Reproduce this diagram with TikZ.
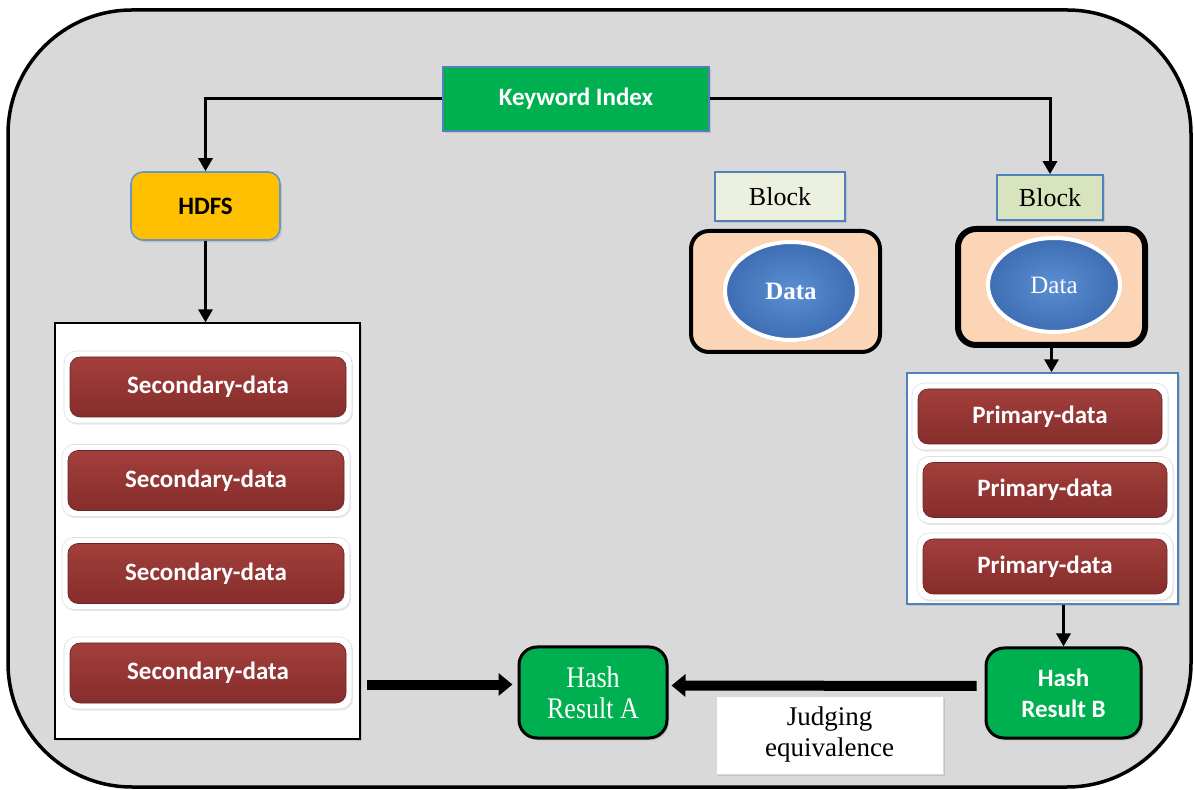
\documentclass[tikz,border=0pt]{standalone}
\usepackage{fontspec}
\setmainfont{Liberation Serif}
\newfontfamily\calfont{Carlito}
\usetikzlibrary{arrows.meta,shapes.geometric,shadows,calc}

\definecolor{framegray}{HTML}{D9D9D9}
\definecolor{kwgreen}{HTML}{00B050}
\definecolor{edgeblue}{HTML}{4F81BD}
\definecolor{hdfsgold}{HTML}{FFC000}
\definecolor{redtop}{HTML}{A23F3C}
\definecolor{redbot}{HTML}{862D2B}
\definecolor{peach}{HTML}{FBD5B5}
\definecolor{blocklight}{HTML}{EBF1DE}
\definecolor{blockmid}{HTML}{D7E4BD}
\definecolor{ellin}{HTML}{5B8FD3}
\definecolor{ellout}{HTML}{3E6DB2}

\begin{document}
\begin{tikzpicture}[x=0.5pt,y=-0.5pt,
  sanstxt/.style={font=\calfont\bfseries\fontsize{12.5}{15.5}\selectfont},
  seriftxt/.style={font=\fontsize{13}{15}\selectfont},
  softshadow/.style={drop shadow={opacity=0.25,shadow xshift=1pt,shadow yshift=-1.2pt}},
  kwbox/.style={rectangle,fill=kwgreen,draw=edgeblue,line width=0.7pt,inner sep=0pt,
    text=white,sanstxt,softshadow},
  hdfsbox/.style={rectangle,rounded corners=6pt,fill=hdfsgold,draw=edgeblue!85,line width=0.8pt,
    inner sep=0pt,text=black,sanstxt,softshadow},
  holder/.style={rectangle,fill=white,inner sep=0pt,softshadow},
  glowbox/.style={rectangle,rounded corners=6pt,fill=white,draw=gray!25,line width=0.3pt,
    inner sep=0pt,drop shadow={opacity=0.18,shadow xshift=0.6pt,shadow yshift=-0.8pt}},
  redbox/.style={rectangle,rounded corners=5pt,top color=redtop,bottom color=redbot,
    draw=redbot!80!black,line width=0.3pt,inner sep=0pt,text=white,sanstxt},
  blockbox/.style={rectangle,draw=edgeblue,line width=0.8pt,inner sep=0pt,text=black,
    seriftxt,softshadow},
  datacase/.style={rectangle,rounded corners=9pt,fill=peach,draw=black,inner sep=0pt},
  dataell/.style={ellipse,inner color=ellin,outer color=ellout,draw=white,line width=2pt,
    inner sep=0pt,text=white,font=\fontsize{12.5}{15}\selectfont,
    drop shadow={opacity=0.3,shadow xshift=0.8pt,shadow yshift=-1pt}},
  hashbox/.style={rectangle,rounded corners=9pt,fill=kwgreen,draw=black,line width=1.5pt,
    inner sep=0pt,text=white,align=center,softshadow},
  judgebox/.style={rectangle,fill=white,draw=gray!30,line width=0.4pt,inner sep=0pt,
    align=center,font=\fontsize{13.5}{15.5}\selectfont,softshadow},
  arr/.style={line width=1.5pt,-{Triangle[length=6.5pt,width=7pt]}},
  bigarr/.style={line width=5pt,-{Triangle[length=7pt,width=11pt]}}
]
\useasboundingbox (0,0) rectangle (1194,790);
\fill[white] (0,0) rectangle (1194,790);

% outer rounded frame
\draw[line width=1.75pt,fill=framegray,rounded corners=62pt] (8,10) rectangle (1191,787);

% top row
\node[kwbox,minimum width=133pt,minimum height=32pt] (kw) at (576,99) {Keyword Index};
\node[hdfsbox,minimum width=74.5pt,minimum height=34pt] (hdfs) at (205.5,206) {HDFS};

% secondary data column
\node[holder,draw=black,line width=0.6pt,minimum width=152.5pt,minimum height=208pt] (sec) at (207.5,531) {};
\foreach \i/\xx/\yy in {1/208/387,2/206/480.5,3/206/573.5,4/208/673}{
  \node[glowbox,minimum width=144pt,minimum height=36pt] (sg\i) at (\xx,\yy) {};
  \node[redbox,minimum width=138pt,minimum height=30pt] (s\i) at (\xx,\yy) {Secondary-data};
}

% blocks with their data
\node[blockbox,fill=blocklight,minimum width=65pt,minimum height=24.5pt] (blk1) at (780,196.5) {Block};
\node[blockbox,fill=blockmid,minimum width=53pt,minimum height=22.5pt] (blk2) at (1050,197.5) {Block};
\node[datacase,line width=2pt,minimum width=94.5pt,minimum height=60.5pt] (dc1) at (785.5,291.5) {};
\node[datacase,line width=3pt,minimum width=93.5pt,minimum height=58pt] (dc2) at (1051.5,287) {};
\node[dataell,minimum width=66pt,minimum height=49pt] (e1) at (791,291) {\bfseries Data};
\node[dataell,minimum width=66pt,minimum height=47pt] (e2) at (1054,285) {Data};

% primary data column
\node[holder,draw=edgeblue,line width=0.7pt,minimum width=135.5pt,minimum height=115.5pt] (prim) at (1042.5,488.5) {};
\foreach \i/\xx/\yy in {1/1040/416.5,2/1045/490,3/1045/566.5}{
  \node[glowbox,minimum width=128pt,minimum height=33.5pt] (pg\i) at (\xx,\yy) {};
  \node[redbox,minimum width=122pt,minimum height=27.5pt] (p\i) at (\xx,\yy) {Primary-data};
}

% hash results
\node[hashbox,minimum width=74pt,minimum height=45.5pt,font=\fontsize{13}{15.5}\selectfont] (hashA) at (593,692.5)
  {\scalebox{1}[1.15]{Hash}\\\scalebox{1}[1.15]{Result A}};
\node[hashbox,minimum width=77.5pt,minimum height=45pt,sanstxt] (hashB) at (1063.5,693) {Hash\\Result B};
\node[judgebox,minimum width=113.5pt,minimum height=39pt] (judge) at (829.5,735) {Judging\\equivalence};

% connectors
\draw[arr] (kw.west) -| (hdfs.north);
\draw[arr] (kw.east) -| (blk2.north);
\draw[arr] (hdfs.south) -- (hdfs.south |- sec.north);
\draw[arr] (dc2.south) -- (dc2.south |- prim.north);
\draw[arr] (hashB.north |- prim.south) -- (hashB.north);
\draw[bigarr] ($(sec.east |- hashA.west)+(6,-8)$) -- ($(hashA.west)+(-5,-8)$);
\draw[bigarr] ($(hashB.west)+(-8,-7)$) -- ($(hashA.east)+(3,-7)$);
\end{tikzpicture}
\end{document}
